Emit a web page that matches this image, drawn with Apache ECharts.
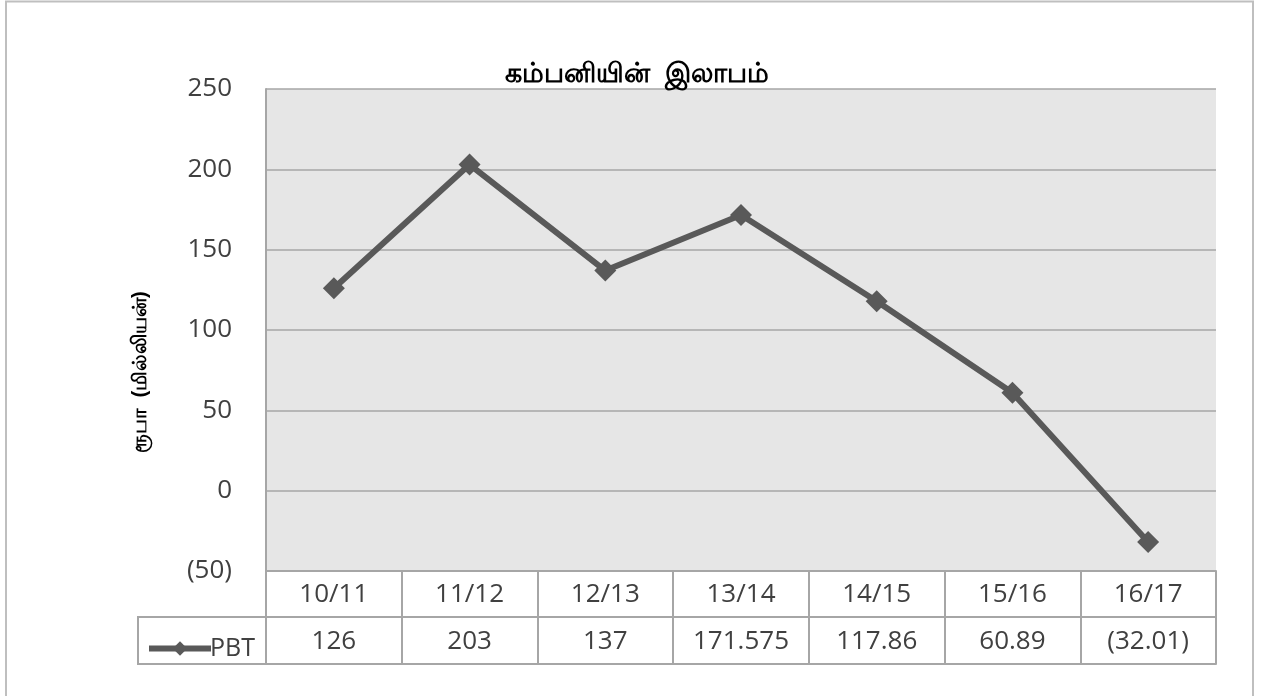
<!DOCTYPE html>
<html>
<head>
<meta charset="utf-8">
<script src="https://cdn.jsdelivr.net/npm/echarts@6/dist/echarts.min.js"></script>
<style>
  html, body { margin: 0; padding: 0; background: #fff; }
  #chart { width: 1274px; height: 696px; }
</style>
</head>
<body>
<div id="chart"></div>
<script>
// data
var categories = ['10/11', '11/12', '12/13', '13/14', '14/15', '15/16', '16/17'];
var pbtValues = [126, 203, 137, 171.575, 117.86, 60.89, -32.01];
var yTicks = { min: -50, max: 250, step: 50 };

var gray = '#a6a6a6';
var textColor = '#404040';
var fontFamily = '"Open Sans", "Liberation Sans", sans-serif';

// negative numbers in brackets, like the sheet does
function fmt(v) {
    return v < 0 ? '(' + (-v) + ')' : String(v);
}
var valueRow = pbtValues.map(function (v) {
    return v < 0 ? '(' + (-v).toFixed(2) + ')' : String(v);
});

var myChart = echarts.init(document.getElementById('chart'));

var option = {
    animation: false,
    backgroundColor: '#fff',
    title: {
        text: 'கம்பனியின்  இலாபம்',
        left: 'center',
        top: 56,
        textStyle: { fontSize: 27, fontWeight: 'bold', color: '#000' }
    },
    legend: {
        left: 141,
        top: 631,
        itemWidth: 62,
        itemHeight: 18,
        data: ['PBT'],
        lineStyle: { width: 6 },
        textStyle: { fontSize: 25, color: textColor, fontFamily: fontFamily, padding: [0, 0, 0, -6] }
    },
    grid: {
        left: 266,
        right: 58,
        top: 89,
        bottom: 125,
        show: true,
        backgroundColor: '#e6e6e6',
        borderWidth: 0
    },
    xAxis: [
        {
            type: 'category',
            data: categories,
            position: 'bottom',
            axisLine: { show: true, onZero: false, lineStyle: { color: gray, width: 2 } },
            axisTick: { show: true, length: 46, lineStyle: { color: gray, width: 2 } },
            axisLabel: { margin: 11, fontSize: 26, color: textColor, fontFamily: fontFamily }
        },
        {
            type: 'category',
            data: valueRow,
            position: 'bottom',
            offset: 46,
            axisLine: { show: true, onZero: false, lineStyle: { color: gray, width: 2 } },
            axisTick: { show: true, length: 47, lineStyle: { color: gray, width: 2 } },
            axisLabel: { margin: 12, fontSize: 26, color: textColor, fontFamily: fontFamily }
        },
        {
            type: 'category',
            data: categories,
            position: 'bottom',
            offset: 93,
            axisLine: { show: true, onZero: false, lineStyle: { color: gray, width: 2 } },
            axisTick: { show: false },
            axisLabel: { show: false }
        }
    ],
    yAxis: {
        type: 'value',
        min: yTicks.min,
        max: yTicks.max,
        interval: yTicks.step,
        axisLine: { show: true, lineStyle: { color: gray, width: 2 } },
        axisTick: { show: false },
        splitLine: { lineStyle: { color: gray, width: 1.5 } },
        axisLabel: {
            margin: 34,
            fontSize: 26,
            color: textColor,
            fontFamily: fontFamily,
            formatter: fmt
        }
    },
    graphic: [
        // outer frame
        {
            type: 'rect',
            shape: { x: 6, y: 1.5, width: 1247, height: 720 },
            style: { fill: 'none', stroke: '#bfbfbf', lineWidth: 2 },
            silent: true
        },
        // legend cell of the data table
        {
            type: 'rect',
            shape: { x: 138, y: 617, width: 128, height: 47 },
            style: { fill: 'none', stroke: gray, lineWidth: 2 },
            silent: true
        },
        {
            type: 'text',
            x: 140,
            y: 372,
            rotation: Math.PI / 2,
            style: {
                text: 'ரூபா  (மில்லியன்)',
                fontSize: 20,
                fontWeight: 'bold',
                fill: '#000',
                align: 'center',
                verticalAlign: 'middle'
            }
        }
    ],
    series: [{
        name: 'PBT',
        type: 'line',
        data: pbtValues,
        symbol: 'diamond',
        symbolSize: 22,
        lineStyle: { color: '#595959', width: 6 },
        itemStyle: { color: '#595959' }
    }]
};

myChart.setOption(option);
</script>
</body>
</html>
